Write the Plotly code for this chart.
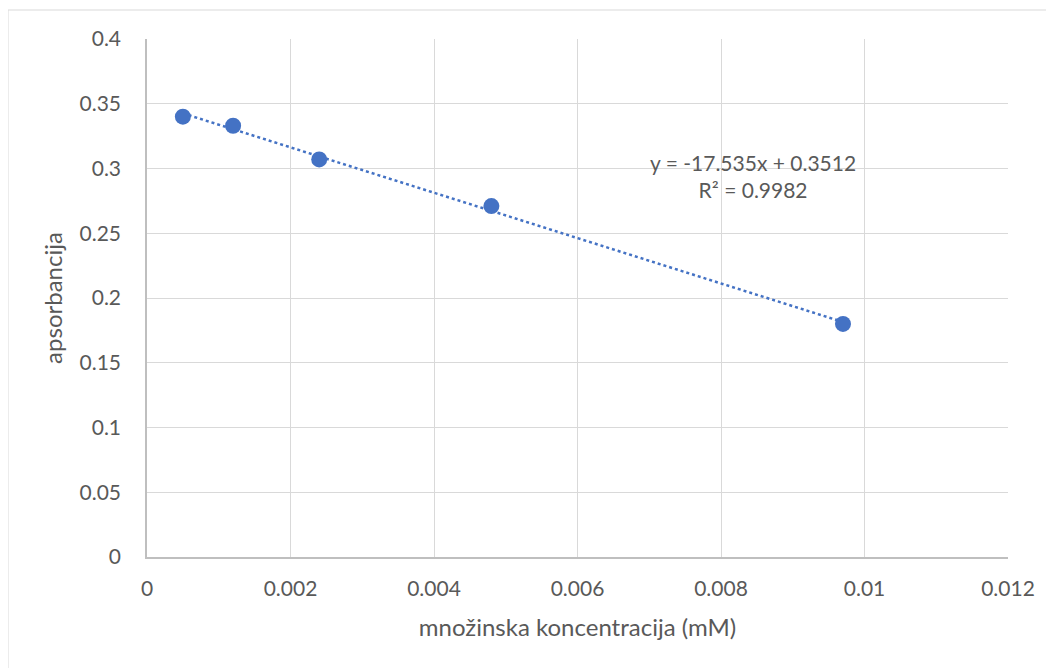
import numpy as np
import plotly.graph_objects as go

# Data
concentration = [0.0005, 0.0012, 0.0024, 0.0048, 0.0097]
absorbance = [0.340, 0.333, 0.307, 0.271, 0.180]
x_ticks = [0, 0.002, 0.004, 0.006, 0.008, 0.01, 0.012]
x_tick_labels = ["0", "0.002", "0.004", "0.006", "0.008", "0.01", "0.012"]
y_ticks = [0, 0.05, 0.1, 0.15, 0.2, 0.25, 0.3, 0.35, 0.4]
y_tick_labels = ["0", "0.05", "0.1", "0.15", "0.2", "0.25", "0.3", "0.35", "0.4"]
equation_text = "y = -17.535x + 0.3512<br>R² = 0.9982"

# Linear trendline from the data
slope, intercept = np.polyfit(concentration, absorbance, 1)
trend_x = [min(concentration), max(concentration)]
trend_y = [slope * v + intercept for v in trend_x]

FONT = "Lato, Open Sans, sans-serif"
TXT = "#595959"
BLUE = "#4472c4"

fig = go.Figure()
fig.add_trace(go.Scatter(
    x=trend_x, y=trend_y, mode="lines",
    line=dict(color=BLUE, width=2.5, dash="dot"),
    showlegend=False, hoverinfo="skip",
))
fig.add_trace(go.Scatter(
    x=concentration, y=absorbance, mode="markers",
    marker=dict(color=BLUE, size=16, line=dict(width=0)),
    showlegend=False,
))

SHIFT = 8  # page body margin
W, H = 1054, 668
L, T = 147 - SHIFT, 39 - SHIFT
pw, ph = 861, 518
R, B = W - L - pw, H - T - ph

def px_x(p):  # target page pixel -> paper x
    return (p - SHIFT - L) / pw

def px_y(p):  # target page pixel -> paper y
    return (T + ph - (p - SHIFT)) / ph

fig.update_layout(
    width=W, height=H,
    margin=dict(l=L, r=R, t=T, b=B),
    paper_bgcolor="white", plot_bgcolor="white",
    font=dict(family=FONT, color=TXT, size=21),
    xaxis=dict(
        range=[0, 0.012], tickvals=x_ticks, ticktext=x_tick_labels,
        showgrid=True, gridcolor="#d9d9d9", gridwidth=1,
        showline=True, linecolor="#bfbfbf", linewidth=1.5,
        zeroline=False, ticks="", ticklabelstandoff=12,
        tickfont=dict(size=21, color=TXT, family=FONT),
        title=dict(text="množinska koncentracija (mM)", standoff=20,
                   font=dict(size=24, color=TXT, family=FONT)),
    ),
    yaxis=dict(
        range=[0, 0.4], tickvals=y_ticks, ticktext=y_tick_labels,
        showgrid=True, gridcolor="#d9d9d9", gridwidth=1,
        showline=True, linecolor="#bfbfbf", linewidth=1.5,
        zeroline=False, ticks="", ticklabelstandoff=20,
        tickfont=dict(size=21, color=TXT, family=FONT),
        title=dict(text="apsorbancija", standoff=10,
                   font=dict(size=24, color=TXT, family=FONT)),
    ),
    annotations=[dict(
        x=px_x(753), y=px_y(176), xref="paper", yref="paper",
        xanchor="center", yanchor="middle",
        text=equation_text, showarrow=False, align="center",
        font=dict(size=21, color=TXT, family=FONT),
    )],
    shapes=[dict(
        type="rect", xref="paper", yref="paper",
        x0=px_x(8), x1=px_x(W + 20),
        y0=px_y(H + 20), y1=px_y(10),
        line=dict(color="#d9d9d9", width=1), fillcolor="rgba(0,0,0,0)",
        layer="below",
    )],
)

fig.write_html("out.html")
